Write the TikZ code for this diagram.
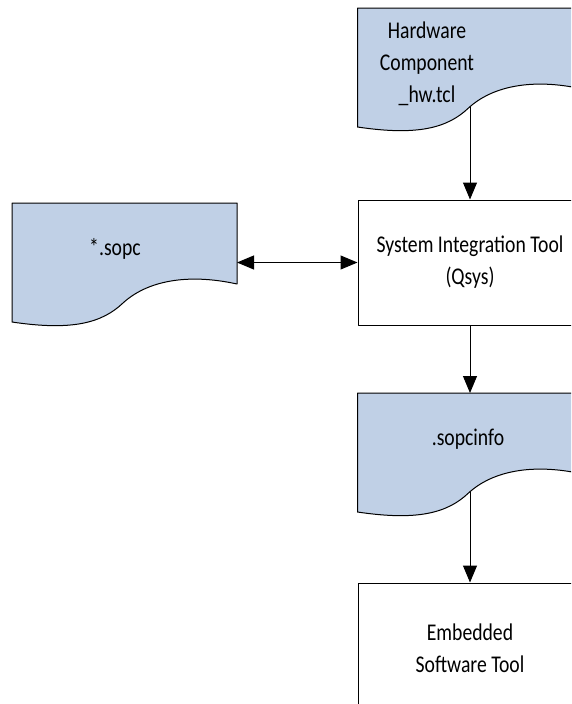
\documentclass[tikz,border=0pt]{standalone}
\usepackage{fontspec}
\setmainfont[FakeStretch=0.82]{Carlito}
\usetikzlibrary{arrows.meta}
\definecolor{docblue}{RGB}{192,208,230}
\begin{document}
\begin{tikzpicture}[x=1pt,y=-1pt,font=\fontsize{24}{32}\selectfont,line join=round,line width=1pt,
	>={Triangle[length=17pt,width=14pt]},
	doc/.style={inner sep=0pt,outer sep=0pt,minimum width=225pt,minimum height=119pt,anchor=north west},
	toolbox/.style={draw,fill=white,inner sep=0pt,minimum width=224pt,align=center}]
	\useasboundingbox (0,0) rectangle (571,704);
	\clip (0,0) rectangle (571,704);
	% tools
	\node[toolbox,minimum height=125pt] (sys) at (470,262.5) {System Integration Tool\\(Qsys)};
	\node[toolbox,minimum height=130pt] (emb) at (470,648) {Embedded\\Software Tool};
	% files
	\node[doc] (hw) at (357.5,8) {};
	\node[doc] (sopc) at (12,203) {};
	\node[doc] (info) at (357.5,393) {};
	\draw[->] (hw.center)--(sys);
	\draw[->] (sys)--(info);
	\draw[->] (info.center)--(emb);
	\draw[<->] (sopc)--(sys);
	\foreach \n in {hw,sopc,info}
	\draw[fill=docblue,shift={(\n.north west)}] (0,0)--(225,0)--(225,81)
		.. controls (175,70) and (135,78) .. (111,100)
		.. controls (90,120) and (60,128) .. (0,119)--cycle;
	\node[align=center] (hwtxt) at (427,64) {Hardware\\Component\\\_hw.tcl};
	\node (sopctxt) at (115,249) {*.sopc};
	\node (infotxt) at (468,439) {.sopcinfo};
\end{tikzpicture}
\end{document}
